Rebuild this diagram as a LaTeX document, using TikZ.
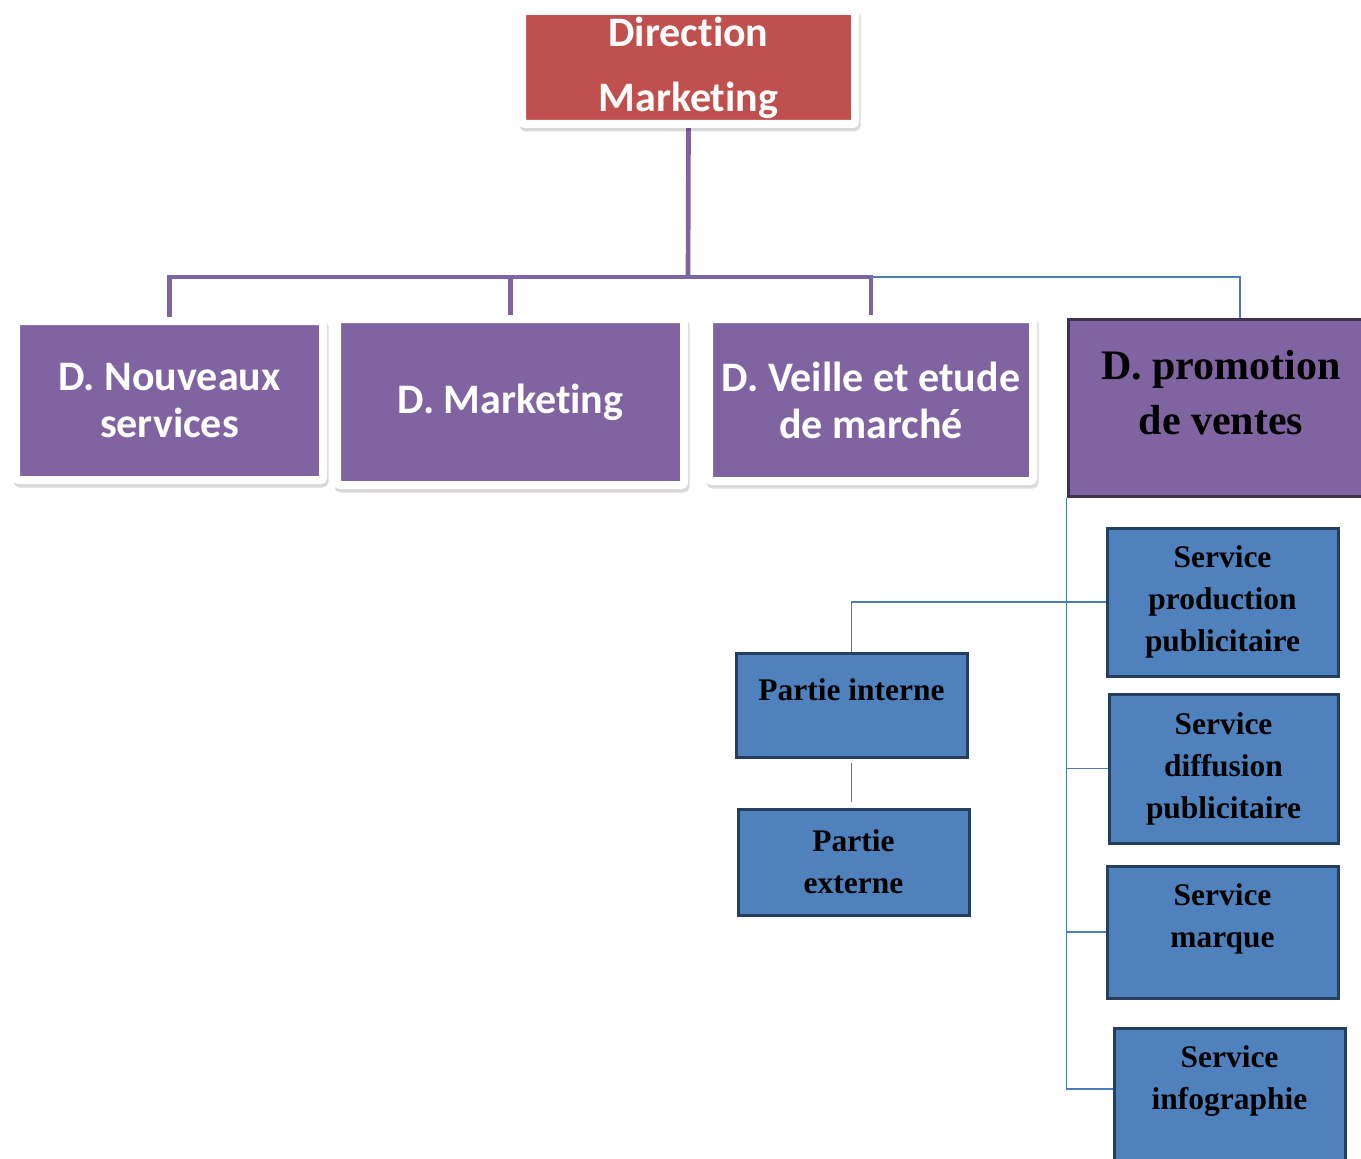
\documentclass[tikz,border=0pt]{standalone}
\usepackage{fontspec}
\usetikzlibrary{calc,backgrounds}
\newfontfamily\calb{Carlito}[Ligatures=NoCommon]
\newfontfamily\timesb{Liberation Serif}
\definecolor{purpleC}{HTML}{8064A2}
\definecolor{redC}{HTML}{C0504D}
\definecolor{blueC}{HTML}{4F81BD}
\definecolor{blueD}{HTML}{243F60}
\definecolor{purpleD}{HTML}{3F3151}
\definecolor{lineC}{HTML}{4A7EBB}
\begin{document}
\begin{tikzpicture}[x=0.75pt,y=-0.75pt,
  framed/.style={draw=white, line width=6pt, rounded corners=2pt, text=white, align=center, inner sep=0pt,
    font=\calb\bfseries\fontsize{31.5}{35.25}\selectfont,
    preaction={draw=black, draw opacity=0.15, line width=6pt, transform canvas={shift={(1.5,3.5)}}}},
  pbox/.style={framed, fill=purpleC},
  rbox/.style={framed, fill=redC, font=\calb\bfseries\fontsize{31.5}{48.75}\selectfont},
  sbox/.style={draw=blueD, line width=2.25pt, fill=blueC, text=black, align=center, inner sep=0pt,
    font=\timesb\bfseries\fontsize{23.6}{31.5}\selectfont},
  stxt/.style={text=black, align=center, inner sep=0pt, font=\timesb\bfseries\fontsize{23.6}{31.5}\selectfont},
  dbox/.style={draw=purpleD, line width=2.25pt, fill=purpleC},
  dtxt/.style={text=black, align=center, inner sep=0pt, font=\timesb\bfseries\fontsize{31.5}{41.25}\selectfont},
  pconn/.style={draw=purpleC, line width=3.5pt},
  bconn/.style={draw=lineC, line width=1pt},
]
\useasboundingbox (0,0) rectangle (1361,1159);

% top
\node[rbox, minimum width=333*0.75pt, minimum height=113*0.75pt] (dm) at (688.5,67.5) {Direction\\Marketing};

% level 1
\node[pbox, minimum width=307*0.75pt, minimum height=159*0.75pt] (n1) at (169.5,400.5) {D. Nouveaux\\services};
\node[pbox, minimum width=347*0.75pt, minimum height=166*0.75pt] (n2) at (510.5,402) {D. Marketing};
\node[pbox, minimum width=324*0.75pt, minimum height=162*0.75pt] (n3) at (871,400) {D. Veille et etude\\de march\'e};
\node[dbox, minimum width=306*0.75pt, minimum height=177*0.75pt] (n4) at (1221,407.5) {};
\node[dtxt] (n4t) at ($(n4.center)+(0,-15)$) {D. promotion\\de ventes};

% services
\node[sbox, minimum width=231*0.75pt, minimum height=148*0.75pt] (sp) at (1222.5,602) {Service\\production\\publicitaire};
\node[sbox, minimum width=229*0.75pt, minimum height=149*0.75pt] (sd) at (1223.5,768.5) {Service\\diffusion\\publicitaire};
\node[sbox, minimum width=231*0.75pt, minimum height=132*0.75pt] (sm) at (1222.5,932) {};
\node[stxt] (smt) at ($(sm.center)+(0,-13.5)$) {Service\\marque};
\node[sbox, minimum width=231*0.75pt, minimum height=152*0.75pt] (si) at (1229.5,1104) {};
\node[stxt] (sit) at ($(si.center)+(0,-23)$) {Service\\infographie};

% parties
\node[sbox, minimum width=231*0.75pt, minimum height=104*0.75pt] (pi) at (851.5,705) {};
\node[stxt] (pit) at ($(pi.center)+(0,-15)$) {Partie interne};
\node[sbox, minimum width=231*0.75pt, minimum height=106*0.75pt] (pe) at (853.5,862) {Partie\\externe};

\begin{scope}[on background layer]
  \coordinate (bus) at (688,277);
  \draw[pconn] (dm.south) -- (bus);
  \draw[pconn] (n1.north) |- (bus -| n3.north) -- (n3.north);
  \draw[pconn] (n2.north) -- (n2.north |- bus);
  \coordinate (b4) at ($(n4.north)+(19,0)$);
  \draw[bconn] (n3.north |- bus) -| (b4);
  \coordinate (sx) at (n4.south west);
  \coordinate (sib) at ($(si.west)+(0,-15)$);
  \draw[bconn] (sx) |- (sib);
  \draw[bconn] (sx |- sd.west) -- (sd.west);
  \draw[bconn] (sx |- sm.west) -- (sm.west);
  \draw[bconn] (sp.west) -| (pi.north);
  \draw[bconn, shorten <=3pt, shorten >=4pt] (pi.south) -- (pi.south |- pe.north);
\end{scope}
\end{tikzpicture}
\end{document}
